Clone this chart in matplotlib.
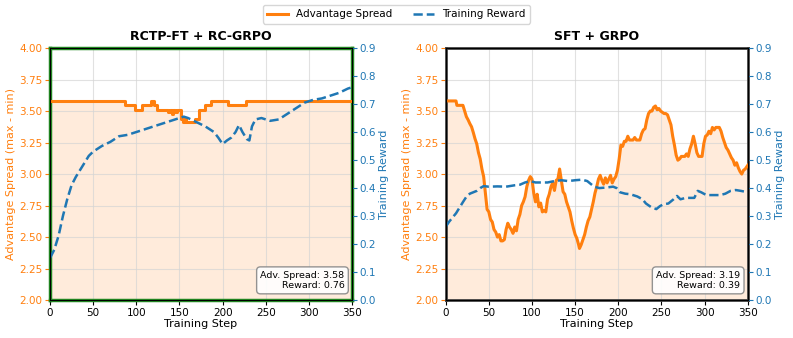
import numpy as np
import matplotlib
matplotlib.use('Agg')
import matplotlib.pyplot as plt

ORANGE = '#ff7f0e'
BLUE = '#1f77b4'

# RCTP-FT + RC-GRPO (advantage spread is step-like)
rc_adv_steps = [0, 87, 98, 107, 117, 120, 124, 137, 139, 141, 143, 145, 147, 152, 154, 156, 158,
                168, 173, 180, 186, 206, 227, 350]
rc_adv_vals = [3.58, 3.545, 3.51, 3.545, 3.58, 3.545, 3.51, 3.49, 3.51, 3.48, 3.51, 3.49, 3.51,
               3.44, 3.41, 3.44, 3.41, 3.44, 3.51, 3.545, 3.58, 3.545, 3.58, 3.58]
rc_rew_steps = [0, 5, 10, 15, 20, 25, 30, 35, 40, 45, 50, 60, 70, 80, 90, 100, 110, 120, 130, 140,
                150, 155, 160, 170, 180, 190, 195, 200, 205, 210, 215, 219, 223, 228, 231, 234, 238,
                245, 255, 265, 275, 285, 295, 305, 315, 325, 335, 345, 350]
rc_rew_vals = [0.15, 0.18, 0.23, 0.30, 0.36, 0.41, 0.44, 0.465, 0.49, 0.515, 0.53, 0.55, 0.565,
               0.585, 0.59, 0.60, 0.61, 0.62, 0.63, 0.64, 0.65, 0.655, 0.65, 0.635, 0.62, 0.60,
               0.58, 0.557, 0.57, 0.58, 0.60, 0.625, 0.60, 0.575, 0.57, 0.62, 0.645, 0.65, 0.64,
               0.645, 0.665, 0.685, 0.705, 0.715, 0.72, 0.73, 0.74, 0.755, 0.76]

# SFT + GRPO
sft_adv_steps = [0, 12, 13, 20, 22, 24, 26, 28, 30, 32, 34, 36, 38, 40, 42, 44, 46, 48, 50, 52, 54,
                 56, 58, 60, 62, 64, 66, 68, 70, 72, 74, 76, 78, 80, 82, 84, 86, 88, 90, 92, 94,
                 96, 98, 100, 102, 104, 106, 108, 110, 112, 114, 116, 118, 120, 122, 124, 126,
                 128, 130, 132, 134, 136, 138, 140, 142, 144, 146, 148, 150, 152, 154, 155, 157,
                 159, 161, 163, 165, 167, 169, 171, 173, 175, 177, 179, 181, 183, 185, 187, 189,
                 191, 193, 195, 197, 199, 201, 203, 205, 207, 209, 211, 213, 215, 217, 219, 221,
                 223, 225, 227, 229, 231, 233, 235, 237, 239, 241, 243, 245, 247, 249, 251, 253,
                 255, 257, 259, 261, 263, 265, 267, 269, 271, 273, 275, 277, 279, 281, 283, 285,
                 287, 289, 291, 293, 295, 297, 299, 301, 303, 305, 307, 309, 311, 313, 315, 317,
                 319, 321, 323, 325, 327, 329, 331, 333, 335, 337, 339, 341, 343, 345, 347, 349,
                 350]
sft_adv_vals = [3.58, 3.58, 3.545, 3.545, 3.50, 3.455, 3.43, 3.40, 3.375, 3.33, 3.28, 3.24, 3.17,
                3.12, 3.04, 2.98, 2.85, 2.72, 2.70, 2.64, 2.62, 2.56, 2.54, 2.50, 2.52, 2.47, 2.47,
                2.48, 2.56, 2.61, 2.58, 2.56, 2.53, 2.58, 2.55, 2.64, 2.68, 2.75, 2.78, 2.82, 2.90,
                2.95, 2.98, 2.96, 2.85, 2.78, 2.84, 2.74, 2.77, 2.70, 2.71, 2.70, 2.80, 2.84, 2.90,
                2.93, 2.87, 2.95, 2.96, 3.04, 2.95, 2.86, 2.84, 2.78, 2.74, 2.70, 2.63, 2.57, 2.52,
                2.49, 2.44, 2.41, 2.44, 2.48, 2.52, 2.58, 2.63, 2.66, 2.72, 2.78, 2.85, 2.90, 2.96,
                2.99, 2.95, 2.92, 2.97, 2.93, 2.96, 2.99, 2.93, 2.96, 2.98, 3.03, 3.12, 3.23, 3.22,
                3.26, 3.26, 3.30, 3.27, 3.27, 3.27, 3.29, 3.27, 3.27, 3.27, 3.32, 3.35, 3.36, 3.43,
                3.48, 3.50, 3.50, 3.53, 3.54, 3.51, 3.52, 3.50, 3.49, 3.48, 3.48, 3.47, 3.43, 3.39,
                3.30, 3.23, 3.15, 3.11, 3.12, 3.14, 3.14, 3.14, 3.16, 3.14, 3.20, 3.24, 3.30, 3.24,
                3.17, 3.14, 3.14, 3.14, 3.24, 3.30, 3.31, 3.34, 3.32, 3.37, 3.35, 3.37, 3.37, 3.37,
                3.34, 3.29, 3.25, 3.21, 3.19, 3.16, 3.13, 3.11, 3.07, 3.09, 3.05, 3.02, 3.00, 3.03,
                3.04, 3.06, 3.07]
sft_rew_steps = [0, 4, 8, 12, 16, 20, 24, 28, 32, 36, 40, 44, 50, 60, 70, 80, 86, 92, 98, 104, 110,
                 118, 126, 134, 142, 150, 158, 164, 168, 172, 178, 186, 194, 198, 202, 208, 214,
                 222, 228, 232, 238, 244, 248, 252, 258, 264, 268, 272, 278, 284, 288, 292, 296,
                 302, 310, 318, 324, 330, 336, 342, 350]
sft_rew_vals = [0.262, 0.28, 0.295, 0.31, 0.33, 0.35, 0.369, 0.38, 0.385, 0.39, 0.40, 0.407, 0.405,
                0.406, 0.405, 0.41, 0.412, 0.42, 0.425, 0.42, 0.42, 0.42, 0.425, 0.428, 0.425,
                0.428, 0.43, 0.425, 0.415, 0.405, 0.40, 0.402, 0.405, 0.40, 0.385, 0.38, 0.378,
                0.37, 0.36, 0.345, 0.332, 0.325, 0.335, 0.342, 0.345, 0.36, 0.372, 0.36, 0.365,
                0.365, 0.365, 0.39, 0.385, 0.375, 0.375, 0.375, 0.38, 0.39, 0.393, 0.39, 0.385]

panels = [
    ('RCTP-FT + RC-GRPO', rc_adv_steps, rc_adv_vals, rc_rew_steps, rc_rew_vals,
     'steps-post', 'Adv. Spread: 3.58\nReward: 0.76', '#228b22', 2.5),
    ('SFT + GRPO', sft_adv_steps, sft_adv_vals, sft_rew_steps, sft_rew_vals,
     'default', 'Adv. Spread: 3.19\nReward: 0.39', '#444444', 2.0),
]

fig = plt.figure(figsize=(7.93, 3.38), dpi=100)
lefts = [0.063, 0.562]

for left, (title, xs, ys, rxs, rys, ds, note, spine_c, spine_w) in zip(lefts, panels):
    ax = fig.add_axes([left, 0.112, 0.381, 0.746])
    ax2 = ax.twinx()

    l1, = ax.plot(xs, ys, color=ORANGE, lw=2.2, drawstyle=ds, label='Advantage Spread', zorder=3)
    ax.fill_between(xs, ys, 2.0, color=ORANGE, alpha=0.15, step='post' if ds == 'steps-post' else None,
                    lw=0)
    l2, = ax2.plot(rxs, rys, color=BLUE, lw=1.8, ls='--', label='Training Reward')

    ax.set_xlim(0, 350)
    ax.set_ylim(2.0, 4.0)
    ax2.set_ylim(0.0, 0.9)
    ax.set_yticks(np.arange(2.0, 4.01, 0.25))
    ax2.set_yticks(np.arange(0.0, 0.91, 0.1))
    ax.set_xticks(np.arange(0, 351, 50))
    ax.grid(True, color='#d5d5d5', alpha=0.7, lw=0.8)

    ax.tick_params(axis='y', colors=ORANGE, labelsize=7.5, pad=2)
    ax.tick_params(axis='x', labelsize=7.5, pad=2)
    ax2.tick_params(axis='y', colors=BLUE, labelsize=7.5, pad=2)
    ax.set_ylabel('Advantage Spread (max - min)', color=ORANGE, fontsize=8, labelpad=2)
    ax2.set_ylabel('Training Reward', color=BLUE, fontsize=8, labelpad=2)
    ax.set_xlabel('Training Step', fontsize=8, labelpad=1)
    ax.set_title(title, fontsize=9, fontweight='bold', pad=6)

    for s in ax.spines.values():
        s.set_color(spine_c)
        s.set_linewidth(spine_w)

    ax.text(0.975, 0.04, note, transform=ax.transAxes, ha='right', va='bottom', fontsize=6.8,
            multialignment='right', zorder=5,
            bbox=dict(boxstyle='round,pad=0.4', fc='white', ec='#888888', alpha=0.9))

fig.legend([l1, l2], ['Advantage Spread', 'Training Reward'], loc='upper center',
           bbox_to_anchor=(0.5, 1.0), ncol=2, fontsize=7.5, frameon=True, columnspacing=2.0)

fig.savefig('out.png', dpi=100)
